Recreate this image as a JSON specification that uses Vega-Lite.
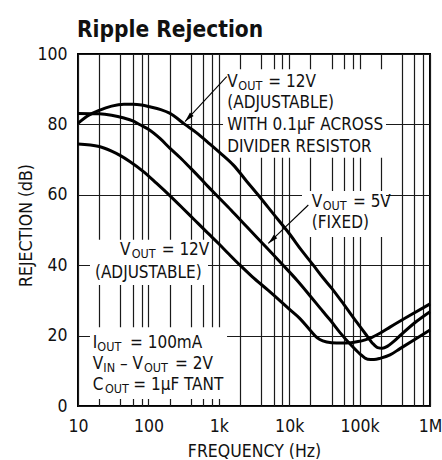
{
  "$schema": "https://vega.github.io/schema/vega-lite/v6.json",
  "width": 352,
  "height": 352,
  "autosize": "none",
  "padding": {"left": 78, "top": 54, "right": 12, "bottom": 54},
  "background": "white",
  "config": {
    "view": {"stroke": "black", "strokeWidth": 2},
    "font": "Liberation Sans Narrow, DejaVu Sans Condensed, Liberation Sans, sans-serif"
  },
  "title": {
    "text": "Ripple Rejection",
    "anchor": "start",
    "frame": "group",
    "font": "Liberation Sans Narrow, DejaVu Sans Condensed, Liberation Sans, sans-serif",
    "fontSize": 22.5,
    "fontWeight": "bold",
    "color": "#111",
    "baseline": "alphabetic",
    "offset": 21,
    "dy": 35,
    "dx": -1
  },
  "datasets": {
    "curves": [
      {"series": "A", "f": 10, "db": 80.3}, {"series": "A", "f": 14, "db": 82.5}, {"series": "A", "f": 20, "db": 84.0},
      {"series": "A", "f": 30, "db": 85.2}, {"series": "A", "f": 45, "db": 85.7}, {"series": "A", "f": 60, "db": 85.7},
      {"series": "A", "f": 80, "db": 85.5}, {"series": "A", "f": 105, "db": 85.0}, {"series": "A", "f": 150, "db": 84.2},
      {"series": "A", "f": 200, "db": 83.2}, {"series": "A", "f": 330, "db": 80.0}, {"series": "A", "f": 485, "db": 77.6},
      {"series": "A", "f": 750, "db": 74.4}, {"series": "A", "f": 1100, "db": 71.5}, {"series": "A", "f": 1600, "db": 68.5},
      {"series": "A", "f": 2500, "db": 63.8}, {"series": "A", "f": 3600, "db": 60.0}, {"series": "A", "f": 6000, "db": 54.5},
      {"series": "A", "f": 10000, "db": 49.0}, {"series": "A", "f": 15000, "db": 44.2}, {"series": "A", "f": 22000, "db": 40.0},
      {"series": "A", "f": 30000, "db": 36.5}, {"series": "A", "f": 40000, "db": 33.5}, {"series": "A", "f": 60000, "db": 28.8},
      {"series": "A", "f": 91000, "db": 23.8}, {"series": "A", "f": 120000, "db": 20.6}, {"series": "A", "f": 150000, "db": 18.0},
      {"series": "A", "f": 180000, "db": 16.6}, {"series": "A", "f": 210000, "db": 16.4}, {"series": "A", "f": 250000, "db": 17.0},
      {"series": "A", "f": 300000, "db": 18.2}, {"series": "A", "f": 400000, "db": 20.5}, {"series": "A", "f": 640000, "db": 24.0},
      {"series": "A", "f": 1000000, "db": 26.8},
      {"series": "B", "f": 10, "db": 83.1}, {"series": "B", "f": 20, "db": 83.0}, {"series": "B", "f": 30, "db": 82.6},
      {"series": "B", "f": 45, "db": 81.8}, {"series": "B", "f": 60, "db": 81.0}, {"series": "B", "f": 76, "db": 79.9},
      {"series": "B", "f": 100, "db": 78.6}, {"series": "B", "f": 146, "db": 76.0}, {"series": "B", "f": 203, "db": 73.2},
      {"series": "B", "f": 281, "db": 70.6}, {"series": "B", "f": 400, "db": 67.5}, {"series": "B", "f": 541, "db": 64.8},
      {"series": "B", "f": 700, "db": 62.4}, {"series": "B", "f": 935, "db": 59.8}, {"series": "B", "f": 1500, "db": 55.6},
      {"series": "B", "f": 2500, "db": 50.9}, {"series": "B", "f": 4000, "db": 46.6}, {"series": "B", "f": 6000, "db": 42.9},
      {"series": "B", "f": 8200, "db": 40.0}, {"series": "B", "f": 12800, "db": 35.8}, {"series": "B", "f": 20000, "db": 31.2},
      {"series": "B", "f": 30000, "db": 26.9}, {"series": "B", "f": 38000, "db": 24.5}, {"series": "B", "f": 52000, "db": 21.0},
      {"series": "B", "f": 75000, "db": 17.4}, {"series": "B", "f": 100000, "db": 14.9}, {"series": "B", "f": 130000, "db": 13.3},
      {"series": "B", "f": 160000, "db": 13.2}, {"series": "B", "f": 200000, "db": 13.6}, {"series": "B", "f": 270000, "db": 14.5},
      {"series": "B", "f": 375000, "db": 16.3}, {"series": "B", "f": 640000, "db": 19.2}, {"series": "B", "f": 1000000, "db": 21.6},
      {"series": "C", "f": 10, "db": 74.4}, {"series": "C", "f": 20, "db": 73.7}, {"series": "C", "f": 30, "db": 72.4},
      {"series": "C", "f": 39.5, "db": 71.2}, {"series": "C", "f": 55, "db": 69.4}, {"series": "C", "f": 85, "db": 66.6},
      {"series": "C", "f": 130, "db": 63.3}, {"series": "C", "f": 203, "db": 59.7}, {"series": "C", "f": 300, "db": 56.4},
      {"series": "C", "f": 435, "db": 53.2}, {"series": "C", "f": 700, "db": 49.1}, {"series": "C", "f": 1000, "db": 46.1},
      {"series": "C", "f": 1400, "db": 43.1}, {"series": "C", "f": 2000, "db": 40.0}, {"series": "C", "f": 3000, "db": 36.7},
      {"series": "C", "f": 5000, "db": 32.9}, {"series": "C", "f": 7500, "db": 29.8}, {"series": "C", "f": 10300, "db": 27.3},
      {"series": "C", "f": 14100, "db": 24.9}, {"series": "C", "f": 19700, "db": 21.6}, {"series": "C", "f": 25000, "db": 19.4},
      {"series": "C", "f": 30000, "db": 18.5}, {"series": "C", "f": 40000, "db": 18.0}, {"series": "C", "f": 55000, "db": 17.9},
      {"series": "C", "f": 75000, "db": 18.0}, {"series": "C", "f": 95000, "db": 18.3}, {"series": "C", "f": 120000, "db": 18.8},
      {"series": "C", "f": 150000, "db": 19.5}, {"series": "C", "f": 200000, "db": 20.8}, {"series": "C", "f": 270000, "db": 22.4},
      {"series": "C", "f": 514000, "db": 25.7}, {"series": "C", "f": 1000000, "db": 29.0}
    ],
    "boxes": [
      {"f1": 1148, "f2": 237000, "d1": 95.7, "d2": 70.5},
      {"f1": 15200, "f2": 237000, "d1": 61.1, "d2": 48.0},
      {"f1": 14.8, "f2": 703, "d1": 47.2, "d2": 34.4},
      {"f1": 14.8, "f2": 1310, "d1": 22.4, "d2": 2.0}
    ],
    "texts": [
      {"f": 1320, "db": 90.7, "t": "V"},
      {"f": 5050, "db": 90.7, "t": "= 12V"},
      {"f": 1320, "db": 84.6, "t": "(ADJUSTABLE)"},
      {"f": 1320, "db": 78.4, "t": "WITH 0.1µF ACROSS"},
      {"f": 1320, "db": 72.2, "t": "DIVIDER RESISTOR"},
      {"f": 20900, "db": 56.6, "t": "V"},
      {"f": 80500, "db": 56.6, "t": "= 5V"},
      {"f": 20900, "db": 50.5, "t": "(FIXED)"},
      {"f": 39.5, "db": 42.9, "t": "V"},
      {"f": 154.6, "db": 42.9, "t": "= 12V"},
      {"f": 17.4, "db": 36.3, "t": "(ADJUSTABLE)"},
      {"f": 16.2, "db": 16.4, "t": "I"},
      {"f": 54.8, "db": 16.4, "t": "= 100mA"},
      {"f": 16.2, "db": 10.4, "t": "V"},
      {"f": 39.5, "db": 10.4, "t": "– V"},
      {"f": 239, "db": 10.4, "t": "= 2V"},
      {"f": 16.2, "db": 4.55, "t": "C"},
      {"f": 61, "db": 4.55, "t": "= 1µF TANT"}
    ],
    "subs": [
      {"f": 1892, "db": 89.8, "t": "OUT"},
      {"f": 29900, "db": 55.7, "t": "OUT"},
      {"f": 57.9, "db": 42.0, "t": "OUT"},
      {"f": 18.8, "db": 15.6, "t": "OUT"},
      {"f": 22.9, "db": 9.66, "t": "IN"},
      {"f": 86.6, "db": 9.66, "t": "OUT"},
      {"f": 24.2, "db": 3.78, "t": "OUT"}
    ],
    "arrows": [
      {"id": 1, "f1": 1295, "d1": 93.55, "f2": 331, "d2": 80.8},
      {"id": 2, "f1": 18700, "d1": 57.1, "f2": 5050, "d2": 46.2}
    ]
  },
  "layer": [
    {
      "data": {"name": "boxes"},
      "mark": {"type": "rect", "fill": "white", "strokeWidth": 0},
      "encoding": {
        "x": {
          "field": "f1", "type": "quantitative",
          "scale": {"type": "log", "domain": [10, 1000000], "nice": false},
          "axis": {
            "title": "FREQUENCY (Hz)",
            "values": [10, 20, 40, 60, 80, 100, 200, 400, 600, 800, 1000, 2000, 4000, 6000, 8000, 10000, 20000, 40000, 60000, 80000, 100000, 200000, 400000, 600000, 800000, 1000000],
            "labelExpr": "datum.value == 10 ? '10' : datum.value == 100 ? '100' : datum.value == 1000 ? '1k' : datum.value == 10000 ? '10k' : datum.value == 100000 ? '100k' : datum.value == 1000000 ? '1M' : ''",
            "grid": true, "gridColor": "#1a1a1a", "gridWidth": 1.2, "gridOpacity": 1,
            "domain": false, "ticks": false, "tickSize": 0,
            "labelOverlap": false, "labelFlush": false, "labelBound": false,
            "labelFontSize": 17.5, "labelColor": "#111", "labelBaseline": "alphabetic", "labelPadding": 25.7,
            "titleFontSize": 17.5, "titleFontWeight": "normal", "titleColor": "#111",
            "titleBaseline": "alphabetic", "titleY": 50.7
          }
        },
        "x2": {"field": "f2"},
        "y": {
          "field": "d1", "type": "quantitative",
          "scale": {"domain": [0, 100], "nice": false},
          "axis": {
            "title": "REJECTION (dB)",
            "values": [0, 20, 40, 60, 80, 100],
            "grid": true, "gridColor": "#1a1a1a", "gridWidth": 1.2, "gridOpacity": 1,
            "domain": false, "ticks": false, "tickSize": 0,
            "labelFontSize": 17.5, "labelColor": "#111", "labelPadding": 11,
            "titleFontSize": 17.5, "titleFontWeight": "normal", "titleColor": "#111",
            "titleAngle": -90, "titleBaseline": "alphabetic", "titleX": -46.5, "titleY": 171, "titleAlign": "center"
          }
        },
        "y2": {"field": "d2"}
      }
    },
    {
      "data": {"name": "curves"},
      "mark": {"type": "line", "stroke": "black", "strokeWidth": 3, "interpolate": "monotone"},
      "encoding": {
        "x": {"field": "f", "type": "quantitative"},
        "y": {"field": "db", "type": "quantitative"},
        "detail": {"field": "series"}
      }
    },
    {
      "data": {"name": "arrows"},
      "mark": {"type": "rule", "stroke": "black", "strokeWidth": 1.1},
      "encoding": {
        "x": {"field": "f1", "type": "quantitative"},
        "y": {"field": "d1", "type": "quantitative"},
        "x2": {"field": "f2"},
        "y2": {"field": "d2"}
      }
    },
    {
      "data": {"name": "arrows"},
      "transform": [{"filter": "datum.id == 1"}],
      "mark": {"type": "point", "filled": true, "fill": "black", "stroke": null, "opacity": 1, "size": 100, "angle": 223, "shape": "M0,0L0.5,2L-0.5,2Z"},
      "encoding": {
        "x": {"field": "f2", "type": "quantitative"},
        "y": {"field": "d2", "type": "quantitative"}
      }
    },
    {
      "data": {"name": "arrows"},
      "transform": [{"filter": "datum.id == 2"}],
      "mark": {"type": "point", "filled": true, "fill": "black", "stroke": null, "opacity": 1, "size": 100, "angle": 226, "shape": "M0,0L0.5,2L-0.5,2Z"},
      "encoding": {
        "x": {"field": "f2", "type": "quantitative"},
        "y": {"field": "d2", "type": "quantitative"}
      }
    },
    {
      "data": {"name": "texts"},
      "mark": {"type": "text", "align": "left", "baseline": "alphabetic", "fontSize": 17, "fill": "#111"},
      "encoding": {
        "x": {"field": "f", "type": "quantitative"},
        "y": {"field": "db", "type": "quantitative"},
        "text": {"field": "t"}
      }
    },
    {
      "data": {"name": "subs"},
      "mark": {"type": "text", "align": "left", "baseline": "alphabetic", "fontSize": 12.5, "fill": "#111"},
      "encoding": {
        "x": {"field": "f", "type": "quantitative"},
        "y": {"field": "db", "type": "quantitative"},
        "text": {"field": "t"}
      }
    }
  ]
}
